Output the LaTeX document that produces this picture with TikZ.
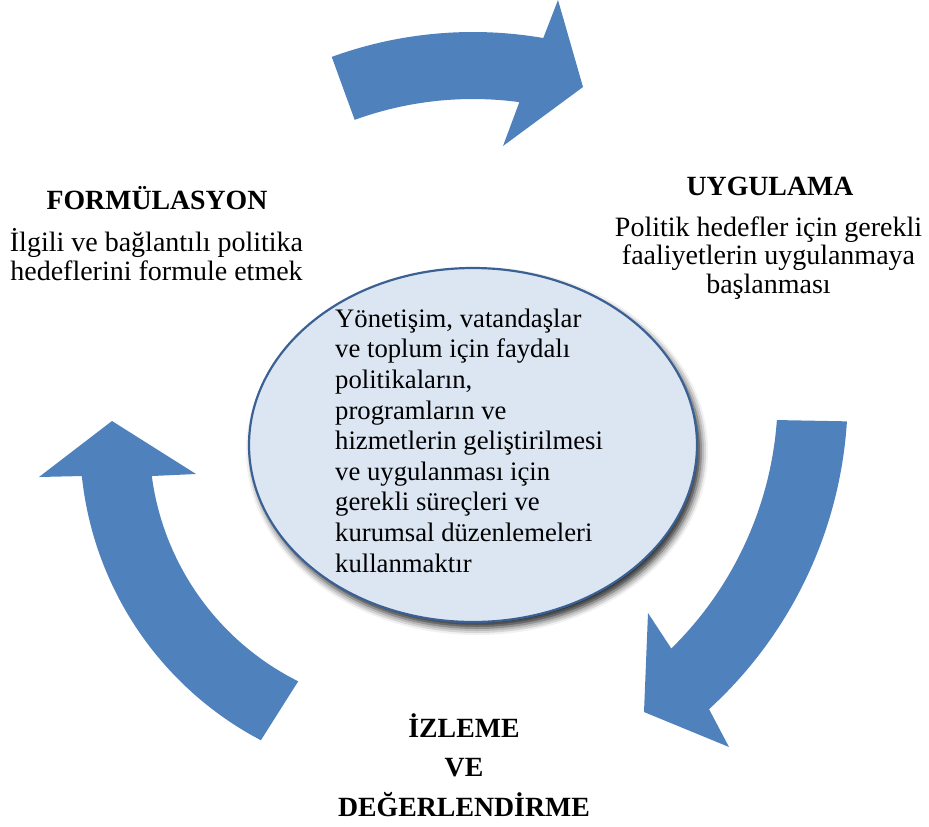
\documentclass[tikz,border=0pt]{standalone}
\usepackage{fontspec}
\setmainfont{Liberation Serif}
\usetikzlibrary{shapes.geometric,shadows.blur,calc}
\definecolor{arrowblue}{HTML}{4F81BD}
\definecolor{discfill}{HTML}{DCE6F2}
\definecolor{discline}{HTML}{3B6194}
\begin{document}
\begin{tikzpicture}[x=1pt,y=-1pt,
  cyclearrow/.style={fill=arrowblue, draw=none},
  disc/.style={ellipse, draw=discline, line width=2.2pt, fill=discfill,
    minimum width=448pt, minimum height=354pt, inner sep=0pt,
    blur shadow={shadow xshift=4pt, shadow yshift=-6pt,
      shadow blur radius=7pt, shadow opacity=85}},
  stagetitle/.style={font=\fontsize{27.8}{39.5}\selectfont\bfseries, align=center, inner sep=0pt, anchor=base},
  stagetext/.style={font=\fontsize{28}{28.5}\selectfont, align=center, inner sep=0pt, anchor=base},
  disctext/.style={font=\fontsize{26.7}{30.6}\selectfont, align=left, inner sep=0pt, anchor=base west}
]
\useasboundingbox (0,0) rectangle (929,827);

% centres of the three curved arrows
\coordinate (c1) at (473,445);
\coordinate (c2) at (421.8,394.6);
\coordinate (c3) at (418,441);

% top arrow: formulation -> implementation
\fill[cyclearrow] ($(c1)+(-110:413)$) arc[start angle=-110, end angle=-80.2, radius=413]
  -- (558,0) -- (583,87) -- (503,146)
  -- ($(c1)+(-82.3:346)$) arc[start angle=-82.3, end angle=-110, radius=346] -- cycle;

% right arrow: implementation -> monitoring
\fill[cyclearrow] ($(c2)+(3.6:426)$) arc[start angle=3.6, end angle=47.6, radius=426]
  -- (729,747) -- (644,712) -- (648,613)
  -- ($(c2)+(45.5:356)$) arc[start angle=45.5, end angle=4.1, radius=356] -- cycle;

% left arrow: monitoring -> formulation
\fill[cyclearrow] ($(c3)+(174.05:338)$) -- (39,477) -- (112,421) -- (196,474)
  -- ($(c3)+(172.5:268.5)$) arc[start angle=172.5, end angle=116.5, radius=268.5]
  -- ($(c3)+(117.7:338)$) arc[start angle=117.7, end angle=174.05, radius=338] -- cycle;

% central disc (multi-line nodes sit on the baseline of their last line)
\node[disc] (core) at (473,445) {};
\node[disctext] (coretext) at (335,572) {Yönetişim, vatandaşlar\\ve toplum için faydalı\\politikaların,\\programların ve\\hizmetlerin geliştirilmesi\\ve uygulanması için\\gerekli süreçleri ve\\kurumsal düzenlemeleri\\kullanmaktır};

% stage labels
\node[stagetitle] (formt) at (157,209) {FORMÜLASYON};
\node[stagetext] (formd) at (156.5,280) {İlgili ve bağlantılı politika\\hedeflerini formule etmek};

\node[stagetitle] (implt) at (770,195) {UYGULAMA};
\node[stagetext] (impld) at (768.5,293) {Politik hedefler için gerekli\\faaliyetlerin uygulanmaya\\başlanması};

\node[stagetitle] (evalt) at (464,816) {İZLEME\\VE\\DEĞERLENDİRME};
\end{tikzpicture}
\end{document}
